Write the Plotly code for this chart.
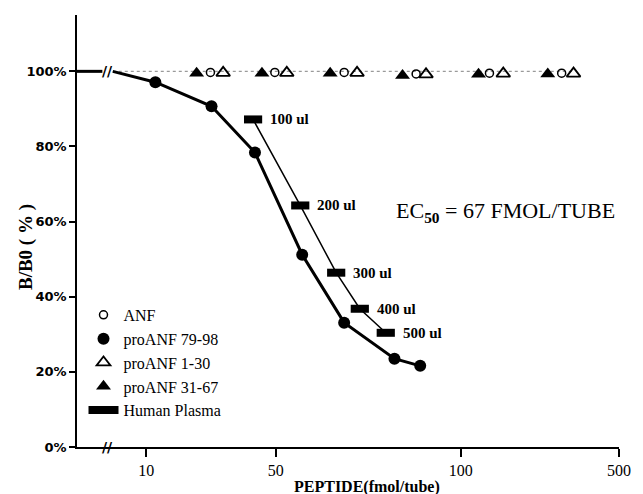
import numpy as np
import plotly.graph_objects as go

# ---------------- data ----------------
X_TICKS = [10, 50, 100, 500]
X_TICK_LABELS = ["10", "50", "100", "500"]
Y_TICKS = [0, 20, 40, 60, 80, 100]
Y_TICK_LABELS = ["0%", "20%", "40%", "60%", "80%", "100%"]

# proANF 79-98 (filled circles), fmol/tube vs B/B0 %
PRO79_X = [11.2, 22.5, 38.6, 55.2, 64.6, 78.0, 85.9]
PRO79_Y = [97.1, 90.7, 78.4, 51.2, 33.1, 23.5, 21.6]

# Human plasma dilutions (filled rectangles)
PLASMA_X = [37.7, 54.8, 62.7, 68.5, 75.5]
PLASMA_Y = [87.2, 64.3, 46.4, 36.8, 30.4]
PLASMA_LABELS = ["100 ul", "200 ul", "300 ul", "400 ul", "500 ul"]

# Non cross-reacting peptides (stay at ~100 %)
ANF_X = [22.2, 49.4, 64.6, 84.6, 133.9, 279.1]
ANF_Y = [99.7, 99.7, 99.7, 99.3, 99.5, 99.5]
PRO1_X = [26.0, 52.1, 67.8, 87.8, 154.1, 314.9]
PRO1_Y = [99.6, 99.6, 99.6, 99.2, 99.4, 99.4]
PRO31_X = [18.7, 42.1, 61.3, 80.4, 119.8, 242.3]
PRO31_Y = [99.5, 99.5, 99.5, 98.9, 99.2, 99.3]

# axis break (fmol/tube) and line ends on either side of it
BREAK_AT = 6.2
BREAK_LEFT = 5.8
BREAK_RIGHT = 6.6

# The printed x axis is a hand-drawn, non-uniform log scale: relative spacing of
# the printed tick marks along the axis.
AXIS_SPACING = [70, 201, 388, 548]


def warp(v):
    """Map fmol/tube onto the printed (piecewise-log) axis."""
    v = np.atleast_1d(np.asarray(v, dtype=float))
    la = np.log10(X_TICKS)
    lv = np.log10(v)
    out = []
    for x in lv:
        i = 0 if x <= la[1] else (1 if x <= la[2] else 2)
        out.append(AXIS_SPACING[i] + (x - la[i]) / (la[i + 1] - la[i])
                   * (AXIS_SPACING[i + 1] - AXIS_SPACING[i]))
    return np.array(out)


SERIF = "Liberation Serif"

fig = go.Figure()

# dotted reference line through the non-reacting peptides
top_x = sorted(ANF_X + PRO1_X + PRO31_X)
fig.add_trace(go.Scatter(x=warp([BREAK_RIGHT] + top_x), y=[100] * (len(top_x) + 1),
                         mode="lines", line=dict(color="#9a9a9a", width=1.2, dash="dot"),
                         showlegend=False, hoverinfo="skip"))

# thick curve before the axis break
fig.add_trace(go.Scatter(x=[0, warp(BREAK_LEFT)[0]], y=[100, 100], mode="lines",
                         line=dict(color="black", width=3), showlegend=False))
# thick curve after the break through proANF 79-98
fig.add_trace(go.Scatter(x=warp([BREAK_RIGHT] + PRO79_X), y=[100] + PRO79_Y, mode="lines",
                         line=dict(color="black", width=3), showlegend=False))

# plasma curve
fig.add_trace(go.Scatter(x=warp(PLASMA_X), y=PLASMA_Y, mode="lines",
                         line=dict(color="black", width=1.5), showlegend=False))

# markers (these also make the legend)
fig.add_trace(go.Scatter(x=warp(ANF_X), y=ANF_Y, mode="markers", name="ANF",
                         marker=dict(symbol="circle-open", size=8, color="black",
                                     line=dict(width=1.5, color="black"))))
fig.add_trace(go.Scatter(x=warp(PRO79_X), y=PRO79_Y, mode="markers", name="proANF 79-98",
                         marker=dict(symbol="circle", size=12, color="black")))
fig.add_trace(go.Scatter(x=warp(PRO1_X), y=PRO1_Y, mode="markers", name="proANF 1-30",
                         marker=dict(symbol="triangle-up-open", size=12, color="black",
                                     line=dict(width=1.8, color="black"))))
fig.add_trace(go.Scatter(x=warp(PRO31_X), y=PRO31_Y, mode="markers", name="proANF 31-67",
                         marker=dict(symbol="triangle-up", size=13, color="black")))
fig.add_trace(go.Scatter(x=warp(PLASMA_X), y=PLASMA_Y, mode="markers", name="Human Plasma",
                         showlegend=False,
                         marker=dict(symbol="line-ew", size=13, color="black",
                                     line=dict(width=8, color="black"))))
# legend entry for the plasma rectangles
fig.add_trace(go.Scatter(x=[None], y=[None], mode="lines", name="Human Plasma",
                         line=dict(color="black", width=8)))

annotations = []
for xv, yv, lab in zip(warp(PLASMA_X), PLASMA_Y, PLASMA_LABELS):
    annotations.append(dict(x=xv, y=yv, xref="x", yref="y", text=f"<b>{lab}</b>",
                            showarrow=False, xanchor="left", yanchor="middle", xshift=15,
                            font=dict(family=SERIF, size=15, color="black")))

# axis break marks
for yv in (100, 0):
    annotations.append(dict(x=warp(BREAK_AT)[0], y=yv, xref="x", yref="y", text="<b>//</b>",
                            showarrow=False, xanchor="center", yanchor="middle",
                            font=dict(family="DejaVu Sans", size=14, color="black")))

annotations.append(dict(x=0.584, y=0.545, xref="paper", yref="paper",
                        text="EC<sub><b>50</b></sub> = 67 FMOL/TUBE", showarrow=False,
                        xanchor="left", yanchor="middle",
                        font=dict(family=SERIF, size=22, color="black")))
annotations.append(dict(x=-0.094, y=0.463, xref="paper", yref="paper",
                        text="<b>B/B0 ( % )</b>", textangle=-90, showarrow=False,
                        xanchor="center", yanchor="middle",
                        font=dict(family=SERIF, size=19, color="black")))
annotations.append(dict(x=0.535, y=-0.093, xref="paper", yref="paper",
                        text="<b>PEPTIDE(fmol/tube)</b>", showarrow=False,
                        xanchor="center", yanchor="middle",
                        font=dict(family=SERIF, size=16, color="black")))

fig.update_layout(
    width=643, height=494,
    margin=dict(l=77, r=18, t=15, b=47),
    paper_bgcolor="white", plot_bgcolor="white",
    showlegend=True,
    legend=dict(x=0.012, y=0.345, xanchor="left", yanchor="top",
                bgcolor="rgba(0,0,0,0)", tracegroupgap=0,
                font=dict(family=SERIF, size=16, color="black")),
    annotations=annotations,
    xaxis=dict(range=[0, AXIS_SPACING[-1]], tickmode="array",
               tickvals=warp(X_TICKS), ticktext=X_TICK_LABELS,
               showline=True, linecolor="black", linewidth=2,
               ticks="outside", ticklen=8, tickwidth=1.5, tickcolor="black",
               showgrid=False, zeroline=False,
               tickfont=dict(family=SERIF, size=16, color="black")),
    yaxis=dict(range=[0, 115], tickmode="array", tickvals=Y_TICKS, ticktext=Y_TICK_LABELS,
               showline=True, linecolor="black", linewidth=1.5,
               ticks="outside", ticklen=6, tickwidth=1.5, tickcolor="black",
               showgrid=False, zeroline=False,
               tickfont=dict(family="DejaVu Sans", size=13, color="black", weight="bold")),
)

fig.write_html("out.html", config={"displayModeBar": False},
               post_script="document.body.style.margin='0';document.body.style.padding='0';")
